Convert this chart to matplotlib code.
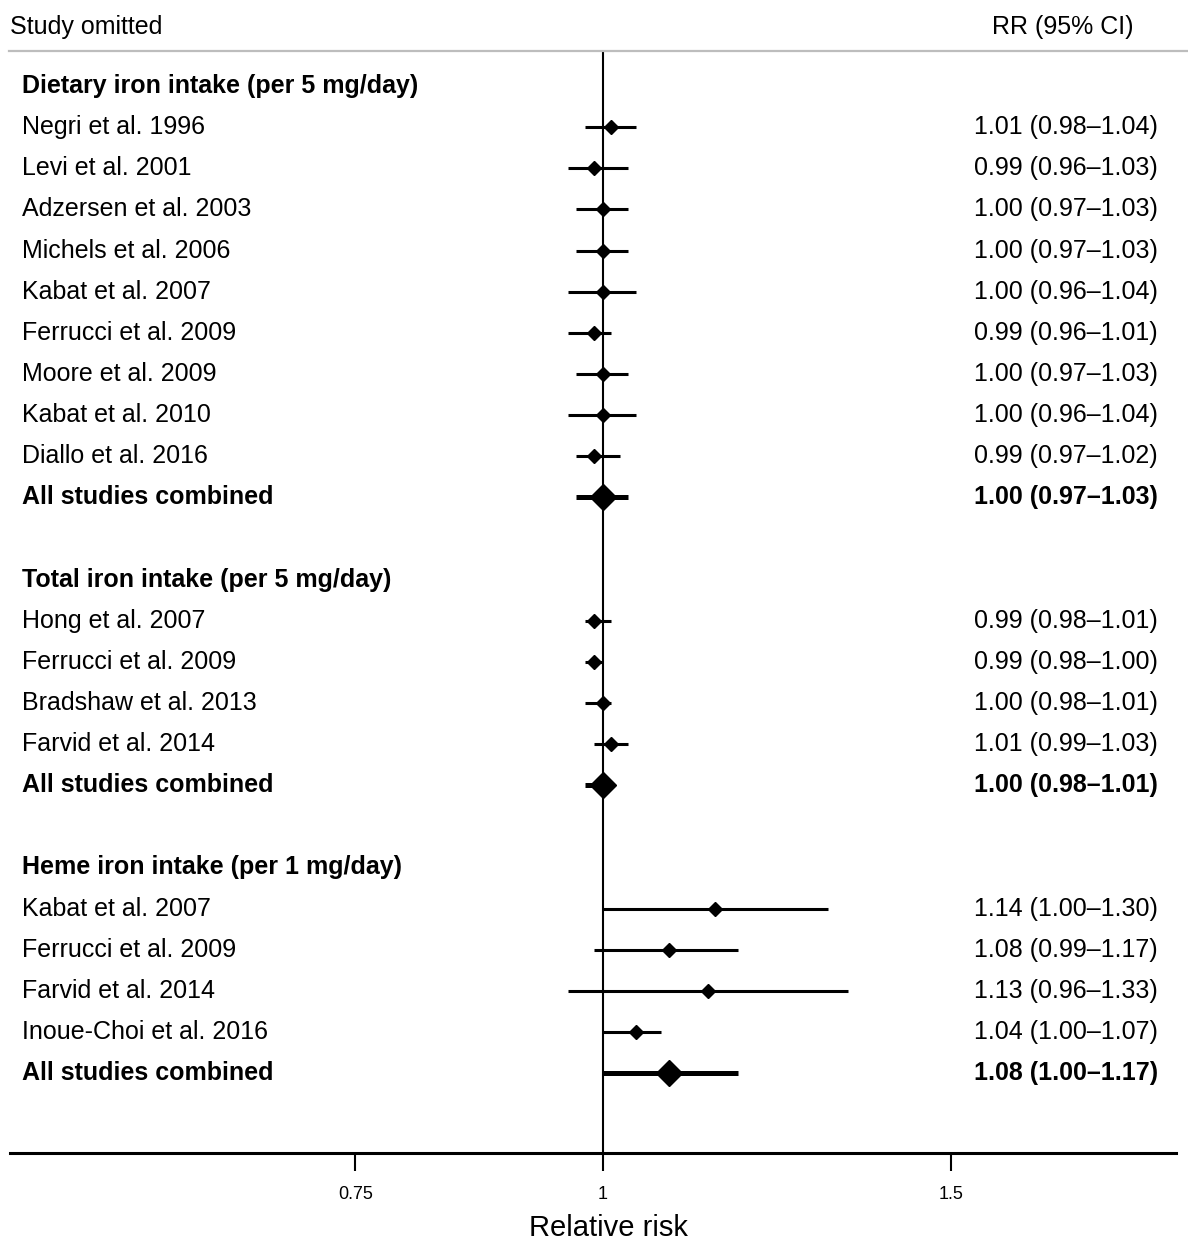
import matplotlib
matplotlib.use("Agg")
import matplotlib.pyplot as plt
from matplotlib.transforms import blended_transform_factory

plt.rcParams['font.family'] = ['Liberation Sans', 'DejaVu Sans']

# --- data ---
dietary_labels = ["Negri et al. 1996", "Levi et al. 2001", "Adzersen et al. 2003",
                  "Michels et al. 2006", "Kabat et al. 2007", "Ferrucci et al. 2009",
                  "Moore et al. 2009", "Kabat et al. 2010", "Diallo et al. 2016",
                  "All studies combined"]
dietary_rr = [1.01, 0.99, 1.00, 1.00, 1.00, 0.99, 1.00, 1.00, 0.99, 1.00]
dietary_lo = [0.98, 0.96, 0.97, 0.97, 0.96, 0.96, 0.97, 0.96, 0.97, 0.97]
dietary_hi = [1.04, 1.03, 1.03, 1.03, 1.04, 1.01, 1.03, 1.04, 1.02, 1.03]

total_labels = ["Hong et al. 2007", "Ferrucci et al. 2009", "Bradshaw et al. 2013",
                "Farvid et al. 2014", "All studies combined"]
total_rr = [0.99, 0.99, 1.00, 1.01, 1.00]
total_lo = [0.98, 0.98, 0.98, 0.99, 0.98]
total_hi = [1.01, 1.00, 1.01, 1.03, 1.01]

heme_labels = ["Kabat et al. 2007", "Ferrucci et al. 2009", "Farvid et al. 2014",
               "Inoue-Choi et al. 2016", "All studies combined"]
heme_rr = [1.14, 1.08, 1.13, 1.04, 1.08]
heme_lo = [1.00, 0.99, 0.96, 1.00, 1.00]
heme_hi = [1.30, 1.17, 1.33, 1.07, 1.17]

groups = [
    ("Dietary iron intake (per 5 mg/day)", dietary_labels, dietary_rr, dietary_lo, dietary_hi),
    ("Total iron intake (per 5 mg/day)", total_labels, total_rr, total_lo, total_hi),
    ("Heme iron intake (per 1 mg/day)", heme_labels, heme_rr, heme_lo, heme_hi),
]

ticks = [0.75, 1, 1.5]
tick_labels = ["0.75", "1", "1.5"]

# --- figure ---
W, H = 1188, 1241
fig = plt.figure(figsize=(W / 100, H / 100), dpi=100)
ax = fig.add_axes([10 / W, (H - 1153) / H, (1176 - 10) / W, (1153 - 52) / H])
ax.set_xscale("log")
ax.set_xlim(0.502, 1.948)
row_h = 41.125
ax.set_ylim((1153 - 86) / row_h, (52 - 86) / row_h)

fs = 18
lab_tr = blended_transform_factory(fig.transFigure, ax.transData)

row = 0
for title, labels, rr, lo, hi in groups:
    ax.text(22 / W, row, title, transform=lab_tr, fontsize=fs, fontweight="bold",
            va="center", ha="left")
    row += 1
    for i, lab in enumerate(labels):
        combined = lab.startswith("All studies")
        weight = "bold" if combined else "normal"
        ax.plot([lo[i], hi[i]], [row, row], color="black",
                lw=3.6 if combined else 2.2, solid_capstyle="butt", zorder=3)
        ax.plot(rr[i], row, marker="D", color="black",
                ms=13 if combined else 7.5, zorder=4)
        ax.text(22 / W, row, lab, transform=lab_tr, fontsize=fs, fontweight=weight,
                va="center", ha="left")
        ax.text(1158 / W, row, f"{rr[i]:.2f} ({lo[i]:.2f}\u2013{hi[i]:.2f})",
                transform=lab_tr, fontsize=fs, fontweight=weight, va="center", ha="right")
        row += 1
    row += 1

ax.axvline(1, color="black", lw=1.5, zorder=2)

for s in ["top", "right", "left"]:
    ax.spines[s].set_visible(False)
ax.spines["bottom"].set_linewidth(2.2)
ax.set_yticks([])
ax.set_xticks(ticks)
ax.set_xticklabels(tick_labels)
ax.xaxis.set_minor_locator(matplotlib.ticker.NullLocator())
ax.tick_params(axis="x", length=13, width=1.5, labelsize=13, pad=11)
ax.set_xlabel("Relative risk", fontsize=21)
ax.xaxis.set_label_coords((608 - 10) / 1166, -(1228 - 1153) / (1153 - 52))
ax.xaxis.label.set_va("center")

# header
fig.text(10 / W, 1 - 27 / H, "Study omitted", fontsize=fs, va="center", ha="left")
fig.text(1134 / W, 1 - 27 / H, "RR (95% CI)", fontsize=fs, va="center", ha="right")
fig.add_artist(plt.Line2D([9 / W, 1], [1 - 51 / H, 1 - 51 / H], transform=fig.transFigure,
                          color="#bdbdbd", lw=1.6))

fig.savefig("out.png", dpi=100)
